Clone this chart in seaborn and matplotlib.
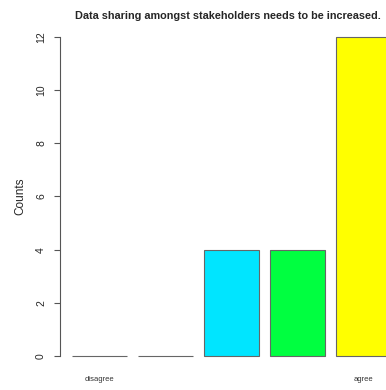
import matplotlib
matplotlib.use("Agg")
from matplotlib import pyplot as plt
import pandas as pd
import seaborn as sns

responses = ["disagree", "somewhat disagree", "neutral", "somewhat agree", "agree"]
counts = [0, 0, 4, 4, 12]
bar_colors = ["#FF0000", "#FF9900", "#00E5FF", "#00FF40", "#FFFF00"]
shown_labels = ["disagree", "", "", "", "agree"]
title = "Data sharing amongst stakeholders needs to be increased."

data = pd.DataFrame({"response": responses, "count": counts})

sns.set_style("white")
plt.rcParams["font.family"] = ["Liberation Sans", "DejaVu Sans"]

fig = plt.figure(figsize=(3.86, 3.90), dpi=100)
ax = fig.add_axes([60 / 386, 1 - 366 / 390, 1 - 60 / 386, 339 / 390])

sns.barplot(data=data, x="response", y="count", hue="response",
            palette=bar_colors, legend=False, width=1 / 1.2, saturation=1,
            edgecolor="#666666", linewidth=0.8, ax=ax)

ax.set_xlim(-0.598, 4.34)
ax.set_ylim(-0.376, 12.376)
ax.set_yticks(range(0, 13, 2))
ax.set_yticklabels([str(v) for v in range(0, 13, 2)], rotation=90, va="center", fontsize=7.5)
ax.set_xticks(range(len(responses)))
ax.set_xticklabels(shown_labels, fontsize=5.5, color="#333333")
ax.tick_params(axis="x", length=0, pad=7)
ax.tick_params(axis="y", left=True, length=4, width=0.8, color="#555555", direction="out", pad=6)

for s in ["top", "right", "bottom"]:
    ax.spines[s].set_visible(False)
ax.spines["left"].set_bounds(0, 12)
ax.spines["left"].set_color("#555555")
ax.spines["left"].set_linewidth(0.8)

ax.set_xlabel("")
ax.set_ylabel("Counts", fontsize=8.5, labelpad=7)

fig.text(228 / 386, 1 - 16 / 390, title, ha="center", va="center",
         fontsize=7.8, fontweight="bold")

fig.savefig("out.png", dpi=100)
